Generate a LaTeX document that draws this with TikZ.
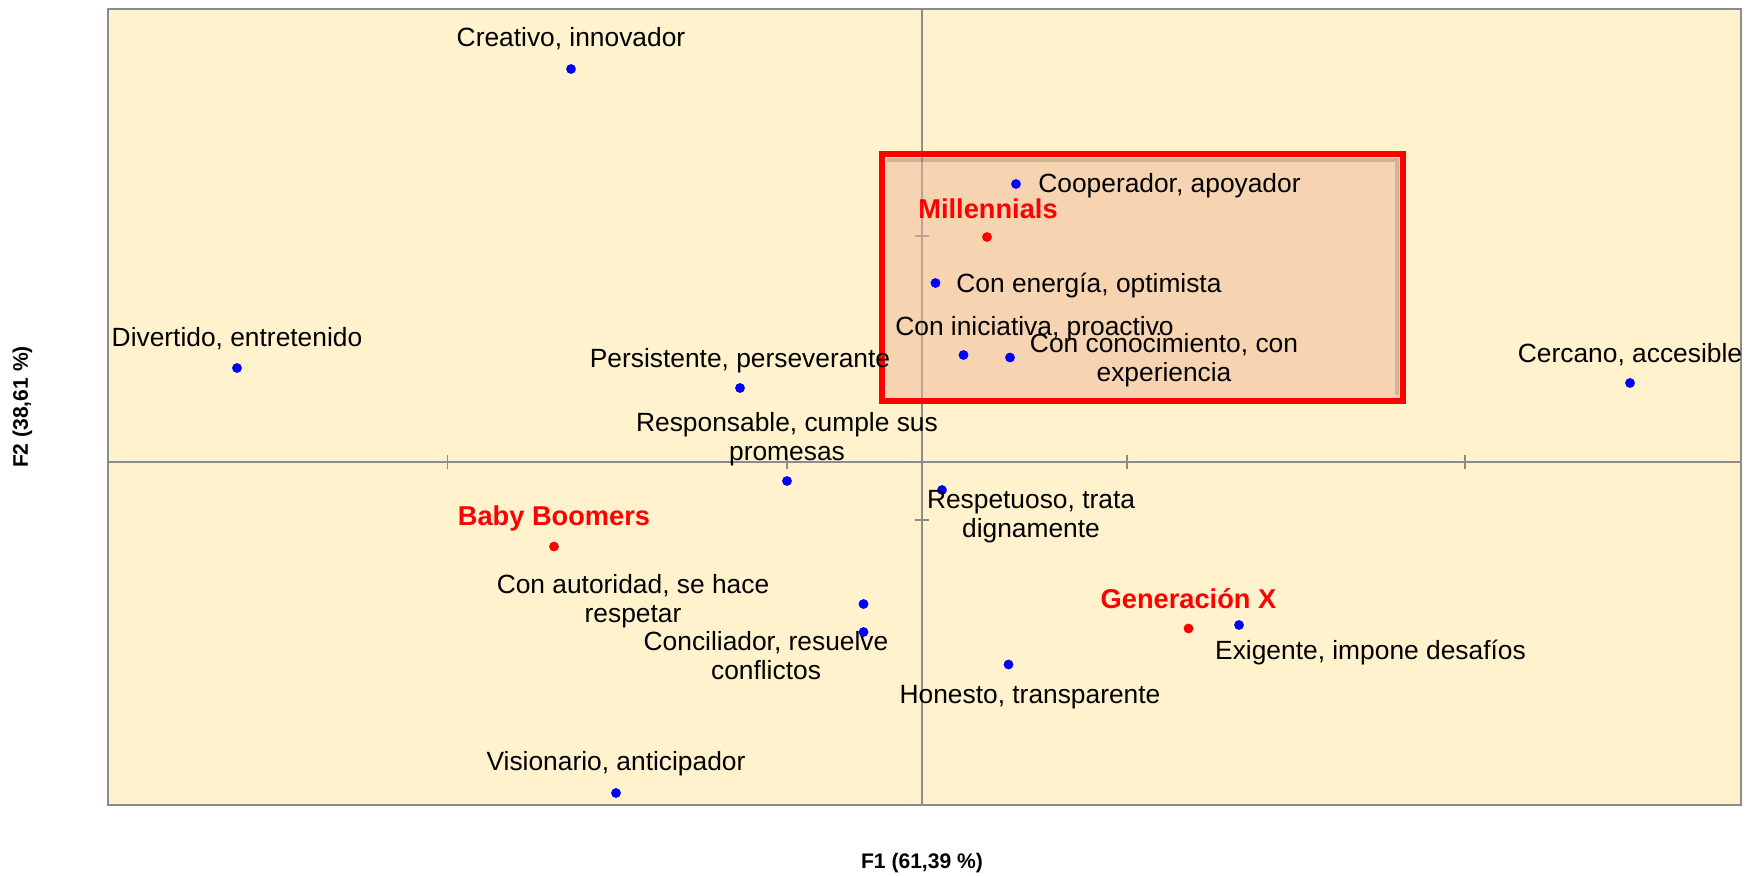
\documentclass[tikz,border=0pt]{standalone}
\usepackage{fontspec}
\setmainfont{Liberation Sans}

\definecolor{fons}{HTML}{FFF2CC}
\definecolor{eixos}{HTML}{8C8C8C}
\definecolor{caixa}{RGB}{239,182,152}

\begin{document}
\begin{tikzpicture}[x=0.02cm,y=-0.02cm,
	etiq/.style={font=\fontsize{15}{16.5}\selectfont,align=center,inner sep=0pt,yshift=-1.2pt},
	grup/.style={font=\fontsize{15.5}{18}\selectfont\bfseries,text=red,inner sep=0pt,yshift=-0.6pt},
	eix/.style={font=\fontsize{12}{14}\selectfont\bfseries,inner sep=0pt}]

	\useasboundingbox (0,0) rectangle (1763,875);

	% Fons i eixos
	\fill[fons] (108,9) rectangle (1741,805);
	\draw[eixos,line width=0.8pt] (108,9) rectangle (1741,805);
	\draw[eixos,line width=0.8pt] (108,462) -- (1741,462);
	\draw[eixos,line width=0.8pt] (922,9) -- (922,805);
	\foreach \x in {447.5,787,1127,1465}
		\draw[eixos,line width=0.8pt] (\x,455) -- (\x,469);
	\foreach \y in {236,520}
		\draw[eixos,line width=0.8pt] (915,\y) -- (929,\y);

	% Requadre
	\fill[caixa,opacity=0.5] (881.5,154) rectangle (1403,401);
	\draw[black,opacity=0.15,line width=2pt] (887,160) -- (1397,160) -- (1397,395);
	\draw[red,line width=3.4pt] (881.5,154) rectangle (1403,401);

	% Atributs
	\coordinate (creativo) at (571,69);
	\coordinate (cooperador) at (1016,184);
	\coordinate (energia) at (935.5,283);
	\coordinate (iniciativa) at (963.5,355);
	\coordinate (conocimiento) at (1010,357.5);
	\coordinate (persistente) at (740,388);
	\coordinate (divertido) at (237,368);
	\coordinate (cercano) at (1630,383);
	\coordinate (responsable) at (787,481);
	\coordinate (respetuoso) at (942,490);
	\coordinate (autoridad) at (863.5,604);
	\coordinate (conciliador) at (863.5,632);
	\coordinate (exigente) at (1239,625);
	\coordinate (honesto) at (1008.5,664.5);
	\coordinate (visionario) at (616,793);

	\foreach \p in {creativo,cooperador,energia,iniciativa,conocimiento,persistente,
		divertido,cercano,responsable,respetuoso,autoridad,conciliador,exigente,
		honesto,visionario}
		\fill[blue] (\p) circle (2.8pt);

	\node[etiq] (creativoL) at (571,37) {Creativo, innovador};
	\node[etiq,anchor=west] (cooperadorL) at (1038,184) {Cooperador, apoyador};
	\node[etiq,anchor=west] (energiaL) at (956,283) {Con energía, optimista};
	\node[etiq] (iniciativaL) at (1034.5,327) {Con iniciativa, proactivo};
	\node[etiq] (conocimientoL) at (1164,358) {Con conocimiento, con\\experiencia};
	\node[etiq] (persistenteL) at (740,359) {Persistente, perseverante};
	\node[etiq] (divertidoL) at (237,337) {Divertido, entretenido};
	\node[etiq] (cercanoL) at (1630,353) {Cercano, accesible};
	\node[etiq] (responsableL) at (787,437.5) {Responsable, cumple sus\\promesas};
	\node[etiq] (respetuosoL) at (1031,515) {Respetuoso, trata\\dignamente};
	\node[etiq] (autoridadL) at (633,599) {Con autoridad, se hace\\respetar};
	\node[etiq] (conciliadorL) at (766,653) {Conciliador, resuelve\\conflictos};
	\node[etiq] (exigenteL) at (1370.5,650) {Exigente, impone desafíos};
	\node[etiq] (honestoL) at (1030,695) {Honesto, transparente};
	\node[etiq] (visionarioL) at (616,762) {Visionario, anticipador};

	% Generacions
	\coordinate (millennials) at (987,237);
	\coordinate (boomers) at (554,546.5);
	\coordinate (genx) at (1188.5,628.5);

	\foreach \p in {millennials,boomers,genx}
		\fill[red] (\p) circle (2.8pt);

	\node[grup] (millennialsL) at (988,208) {Millennials};
	\node[grup] (boomersL) at (554,517) {Baby Boomers};
	\node[grup] (genxL) at (1188.5,598) {Generación X};

	% Titols dels eixos
	\node[eix] (f1) at (922,863.5) {F1 (61,39 \%)};
	\node[eix,rotate=90] (f2) at (22.5,407) {F2 (38,61 \%)};

\end{tikzpicture}
\end{document}
